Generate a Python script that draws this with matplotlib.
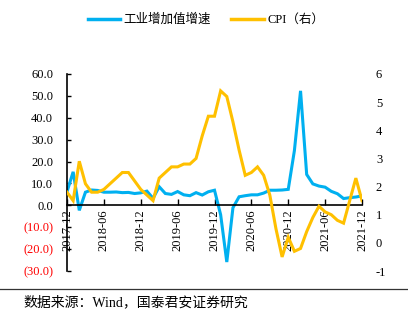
import matplotlib
matplotlib.use("Agg")
import matplotlib.pyplot as plt
from matplotlib.lines import Line2D
from matplotlib.ticker import FuncFormatter, FixedLocator

plt.rcParams['font.family'] = ['Liberation Serif', 'Noto Sans CJK SC']
plt.rcParams['axes.unicode_minus'] = False

# Monthly series, 2017-12 .. 2021-12
industry = [6.2, 15.3, -2.3, 6.0, 7.0, 6.8, 6.0, 6.0, 6.1, 5.8, 5.9, 5.4, 5.7,
            6.5, 3.2, 8.5, 5.4, 5.0, 6.3, 4.8, 4.4, 5.8, 4.7, 6.2, 6.9,
            -4.3, -25.9, -1.1, 3.9, 4.4, 4.8, 4.8, 5.6, 6.9, 6.9, 7.0, 7.3,
            25.0, 52.3, 14.1, 9.8, 8.8, 8.3, 6.4, 5.3, 3.1, 3.5, 3.8, 4.3]
cpi = [1.8, 1.5, 2.9, 2.1, 1.8, 1.8, 1.9, 2.1, 2.3, 2.5, 2.5, 2.2, 1.9,
       1.7, 1.5, 2.3, 2.5, 2.7, 2.7, 2.8, 2.8, 3.0, 3.8, 4.5, 4.5,
       5.4, 5.2, 4.3, 3.3, 2.4, 2.5, 2.7, 2.4, 1.7, 0.5, -0.5, 0.2,
       -0.3, -0.2, 0.4, 0.9, 1.3, 1.1, 1.0, 0.8, 0.7, 1.5, 2.3, 1.5]
tick_labels = ["2017-12", "2018-06", "2018-12", "2019-06", "2019-12",
               "2020-06", "2020-12", "2021-06", "2021-12"]
left_ticks = [60, 50, 40, 30, 20, 10, 0, -10, -20, -30]
right_ticks = [6, 5, 4, 3, 2, 1, 0, -1]

BLUE = "#00B0F0"
GOLD = "#FFC000"
MIXED = ['Liberation Serif', 'Noto Sans CJK SC']

fig = plt.figure(figsize=(4.08, 3.24), dpi=100)
ax = fig.add_axes([67 / 408, 1 - 271 / 324, (362 - 67) / 408, (271 - 74) / 324])
ax2 = ax.twinx()

x = list(range(len(industry)))
ax.plot(x, industry, color=BLUE, lw=2.2, solid_joinstyle='miter')
ax2.plot(x, cpi, color=GOLD, lw=2.2, solid_joinstyle='miter')

ax.set_xlim(0, len(industry) - 1)
ax.set_ylim(-30, 60)
ax2.set_ylim(-1, 6)

# left axis
def fmt_left(v, pos):
    return f"({abs(v):.1f})" if v < 0 else f"{v:.1f}"

ax.yaxis.set_major_locator(FixedLocator(left_ticks))
ax.yaxis.set_major_formatter(FuncFormatter(fmt_left))
ax.tick_params(axis='y', direction='in', length=3, width=1, pad=10,
               labelsize=9, colors='black')
for lbl, v in zip(ax.get_yticklabels(), ax.get_yticks()):
    if v < 0:
        lbl.set_color('#FF0000')

# bottom axis at zero
ax.spines['bottom'].set_position(('data', 0))
ax.spines['top'].set_visible(False)
ax.spines['right'].set_visible(False)
ax.set_xticks(range(0, len(industry), 6))
ax.set_xticklabels(tick_labels, rotation=90)
ax.tick_params(axis='x', direction='in', length=4, width=1, pad=3, labelsize=9)
for s in ['left', 'bottom']:
    ax.spines[s].set_linewidth(1.2)
    ax.spines[s].set_color('black')

# right axis
for s in ['top', 'right', 'left', 'bottom']:
    ax2.spines[s].set_visible(False)
ax2.yaxis.set_major_locator(FixedLocator(right_ticks))
ax2.yaxis.set_major_formatter(FuncFormatter(lambda v, p: f"{int(v)}"))
ax2.tick_params(axis='y', length=0, pad=10, labelsize=9)

# legend
handles = [Line2D([], [], color=BLUE, lw=2.5), Line2D([], [], color=GOLD, lw=2.5)]
fig.legend(handles, ["工业增加值增速", "CPI（右）"], loc='center',
           bbox_to_anchor=(0.505, 1 - 20 / 324), ncol=2, frameon=False,
           handlelength=2.6, handletextpad=0.3, columnspacing=1.6,
           prop={'family': MIXED, 'size': 9})

# source note
fig.add_artist(Line2D([0, 1], [1 - 289 / 324, 1 - 289 / 324], color='#333333', lw=0.9))
fig.text(23 / 408, 1 - 302 / 324, "数据来源：Wind，国泰君安证券研究",
         fontsize=10, va='center', ha='left', family=MIXED)

fig.savefig("out.png", dpi=100)
